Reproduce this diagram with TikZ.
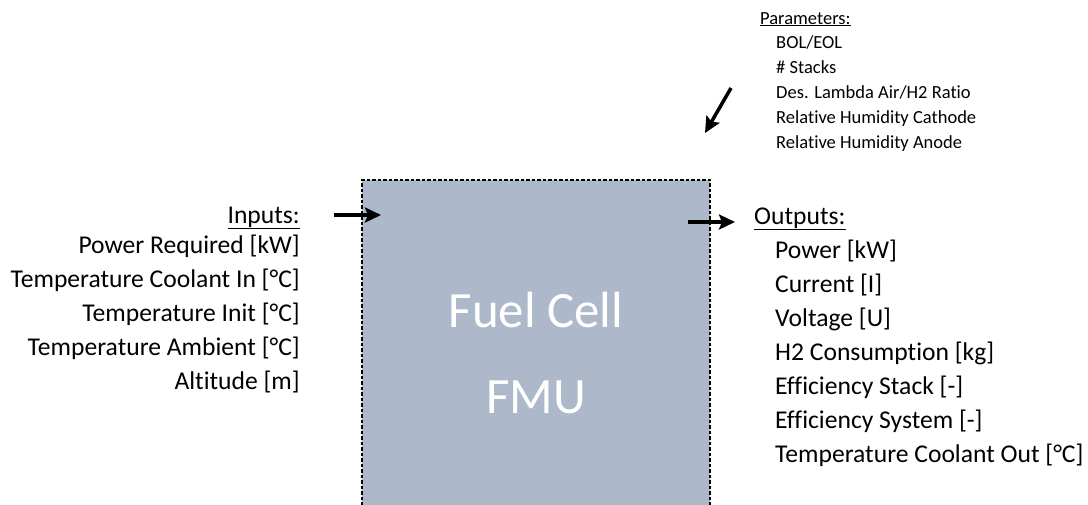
\documentclass[tikz,border=0pt]{standalone}
\usepackage{fontspec}
\setmainfont{Carlito}[Ligatures=NoCommon]
\usetikzlibrary{arrows.meta, positioning}
\definecolor{boxgray}{RGB}{173,185,202}

\begin{document}
\begin{tikzpicture}[
    x=1pt, y=-1pt,
    fmu_box/.style={draw=black, fill=boxgray, dash pattern=on 3.5pt off 2pt, line width=1.5pt, minimum width=348pt, minimum height=346pt, inner sep=0pt, text=white, align=center, font=\fontsize{50.9}{86}\selectfont},
    sig_text/.style={inner sep=0pt, font=\fontsize{25.6}{34}\selectfont},
    par_text/.style={inner sep=0pt, align=left, font=\fontsize{18.5}{24.8}\selectfont},
    sig_arrow/.style={-{Stealth[length=16pt,width=15pt,inset=3pt]}, line width=4.5pt}
  ]
    \useasboundingbox (0,0) rectangle (1088,504);

    \node[fmu_box] (fmu) at (536,353) {Fuel Cell\\FMU};

    % lists are anchored at the baseline of their last line
    \node[sig_text, anchor=base east] (in_head) at (300,223) {\underline{Inputs:}};
    \node[sig_text, align=right, anchor=base east] (in_list) at (300,389) {Power Required [kW]\\Temperature Coolant In [°C]\\Temperature Init [°C]\\Temperature Ambient [°C]\\Altitude [m]};

    \node[sig_text, anchor=base west] (out_head) at (754,224) {\underline{Outputs:}};
    \node[sig_text, align=left, anchor=base west] (out_list) at (775,462) {Power [kW]\\Current [I]\\Voltage [U]\\H2 Consumption [kg]\\Efficiency Stack [-]\\Efficiency System [-]\\Temperature Coolant Out [°C]};

    \node[par_text, anchor=base west] (par_head) at (760,24) {\underline{Parameters:}};
    \node[par_text, anchor=base west] (par_list) at (776,148) {BOL/EOL\\\# Stacks\\Des. Lambda Air/H2 Ratio\\Relative Humidity Cathode\\Relative Humidity Anode};

    \coordinate (in_tail) at (334,215);
    \coordinate (in_tip) at (381,215);
    \coordinate (out_tail) at (688,222);
    \coordinate (out_tip) at (735,222);
    \coordinate (par_tail) at (731,88);
    \coordinate (par_tip) at (705,133);

    \draw[sig_arrow] (in_tail) to (in_tip);
    \draw[sig_arrow] (out_tail) to (out_tip);
    \draw[sig_arrow, line width=3.5pt] (par_tail) to (par_tip);
  \end{tikzpicture}
\end{document}
